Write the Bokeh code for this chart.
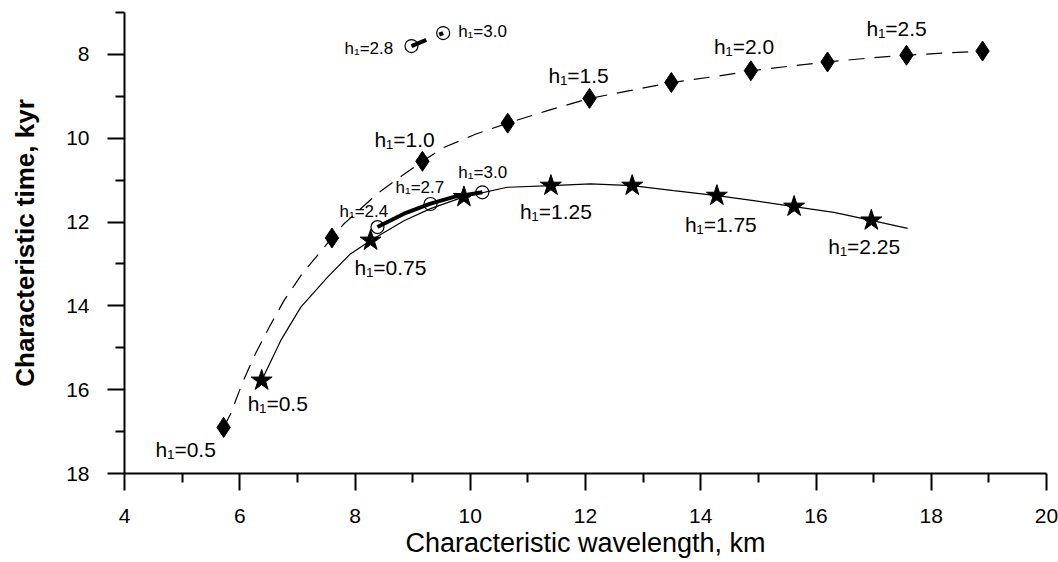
from bokeh.plotting import figure
from bokeh.models import Range1d, FixedTicker, ColumnDataSource
from bokeh.core.properties import value
from bokeh.embed import file_html
from bokeh.resources import INLINE

# ---------------- data ----------------
x_ticks = [4, 6, 8, 10, 12, 14, 16, 18, 20]
x_minor = [5, 7, 9, 11, 13, 15, 17, 19]
y_ticks = [8, 10, 12, 14, 16, 18]
y_minor = [7, 9, 11, 13, 15, 17]

# diamonds (dashed curve)
dia_h = [0.5, 0.75, 1.0, 1.25, 1.5, 1.75, 2.0, 2.25, 2.5, 2.75]
dia_x = [5.72, 7.60, 9.17, 10.65, 12.07, 13.49, 14.87, 16.20, 17.57, 18.89]
dia_y = [16.90, 12.38, 10.55, 9.64, 9.05, 8.67, 8.39, 8.18, 8.02, 7.92]
dash_x = [5.72, 5.84, 6.04, 6.24, 6.51, 6.77, 7.08, 7.40, 7.60, 7.81, 8.39, 8.82,
          9.17, 9.54, 10.10, 10.65, 11.34, 12.07, 12.79, 13.49, 14.29, 14.87,
          15.55, 16.20, 16.90, 17.57, 18.20, 18.89]
dash_y = [16.90, 16.58, 15.86, 15.23, 14.51, 13.87, 13.24, 12.71, 12.38, 12.04, 11.32, 10.89,
          10.55, 10.22, 9.90, 9.64, 9.34, 9.05, 8.86, 8.67, 8.52, 8.39,
          8.28, 8.18, 8.09, 8.02, 7.97, 7.92]

# stars (thin solid curve)
star_h = [0.5, 0.75, 1.0, 1.25, 1.5, 1.75, 2.0, 2.25]
star_x = [6.38, 8.27, 9.89, 11.40, 12.81, 14.28, 15.62, 16.96]
star_y = [15.78, 12.44, 11.40, 11.13, 11.13, 11.37, 11.63, 11.96]
solid_x = [6.38, 6.71, 7.06, 7.52, 7.92, 8.27, 8.85, 9.31, 9.89, 10.64, 11.40, 12.09,
           12.81, 13.53, 14.28, 14.92, 15.62, 16.31, 16.96, 17.59]
solid_y = [15.78, 14.83, 14.03, 13.32, 12.76, 12.44, 11.97, 11.68, 11.40, 11.17, 11.13, 11.09,
           11.13, 11.25, 11.37, 11.49, 11.63, 11.77, 11.96, 12.15]

# open circles on thick curve
circ_h = [2.4, 2.7, 3.0]
circ_x = [8.39, 9.31, 10.21]
circ_y = [12.12, 11.57, 11.29]
thick_x = [8.39, 8.85, 9.31, 9.72, 10.21]
thick_y = [12.12, 11.80, 11.56, 11.40, 11.29]

# isolated pair of open circles at top
top_h = [2.8, 3.0]
top_x = [8.98, 9.53]
top_y = [7.80, 7.49]

FONT = "Liberation Sans"

# ---------------- figure ----------------
p = figure(width=1058, height=562,
           x_range=Range1d(4, 20), y_range=Range1d(18, 7),
           output_backend="svg", toolbar_location=None,
           min_border_left=124, min_border_right=12,
           min_border_top=12, min_border_bottom=89)
p.outline_line_color = None
p.xgrid.visible = False
p.ygrid.visible = False
p.background_fill_color = "white"
p.border_fill_color = "white"

for ax in (p.xaxis[0], p.yaxis[0]):
    ax.axis_line_width = 2
    ax.axis_line_color = "black"
    ax.major_tick_line_width = 2
    ax.minor_tick_line_width = 2
    ax.major_tick_line_color = "black"
    ax.minor_tick_line_color = "black"
    ax.major_tick_out = 17
    ax.major_tick_in = 0
    ax.minor_tick_out = 9
    ax.minor_tick_in = 0
    ax.major_label_text_font = FONT
    ax.major_label_text_font_size = "21px"
    ax.major_label_text_color = "black"
    ax.axis_label_text_font = FONT
    ax.axis_label_text_color = "black"

p.xaxis[0].ticker = FixedTicker(ticks=x_ticks, minor_ticks=x_minor)
p.yaxis[0].ticker = FixedTicker(ticks=y_ticks, minor_ticks=y_minor)

p.xaxis[0].axis_label = "Characteristic wavelength, km"
p.xaxis[0].axis_label_text_font_size = "27px"
p.xaxis[0].axis_label_text_font_style = "normal"
p.xaxis[0].major_label_standoff = 18
p.xaxis[0].axis_label_standoff = 2

p.yaxis[0].axis_label = "Characteristic time, kyr"
p.yaxis[0].axis_label_text_font_size = "26px"
p.yaxis[0].axis_label_text_font_style = "bold"
p.yaxis[0].major_label_standoff = 18
p.yaxis[0].axis_label_standoff = 23

# curves
p.line(dash_x, dash_y, line_color="black", line_width=1.2, line_dash="16 10")
p.line(solid_x, solid_y, line_color="black", line_width=1.2)
p.line(thick_x, thick_y, line_color="black", line_width=4)
p.line(top_x, top_y, line_color="black", line_width=4, line_dash="16 14")

# markers
p.scatter(dia_x, dia_y, marker="diamond", size=20, fill_color="black", line_color="black")
p.scatter(star_x, star_y, marker="star", size=22, fill_color="black", line_color="black")
p.scatter(circ_x, circ_y, marker="circle", size=13, fill_color=None, line_color="black", line_width=1.2)
p.scatter(top_x, top_y, marker="circle", size=13, fill_color=None, line_color="black", line_width=1.2)

def lab(h):
    return "h\u2081=" + str(h)

# labels: (x, y, text, dx px, dy px)
big = []
big.append((dia_x[0], dia_y[0], lab(dia_h[0]), -68, 22))
big.append((star_x[0], star_y[0], lab(star_h[0]), -14, 23))
big.append((star_x[1], star_y[1], lab(star_h[1]), -16, 27))
big.append((dia_x[2], dia_y[2], lab(dia_h[2]), -48, -22))
big.append((star_x[3], star_y[3], lab(star_h[3]), -31, 26))
big.append((dia_x[4], dia_y[4], lab(dia_h[4]), -41, -23))
big.append((star_x[5], star_y[5], lab(star_h[5]), -32, 29))
big.append((dia_x[6], dia_y[6], lab(dia_h[6]), -37, -24))
big.append((star_x[7], star_y[7], lab(star_h[7]), -43, 26))
big.append((dia_x[8], dia_y[8], lab(dia_h[8]), -40, -27))

small = []
small.append((top_x[0], top_y[0], lab(top_h[0]), -67, 2))
small.append((top_x[1], top_y[1], lab(top_h[1]), 15, -2))
small.append((circ_x[0], circ_y[0], lab(circ_h[0]), -38, -16))
small.append((circ_x[1], circ_y[1], lab(circ_h[1]), -35, -17))
small.append((circ_x[2], circ_y[2], lab(circ_h[2]), -24, -20))

for group, fs in ((big, "21px"), (small, "17px")):
    src = ColumnDataSource(dict(
        x=[g[0] for g in group], y=[g[1] for g in group], t=[g[2] for g in group],
        dx=[g[3] for g in group], dy=[g[4] for g in group]))
    p.text(x="x", y="y", text="t", x_offset="dx", y_offset="dy", source=src,
           text_font=value(FONT), text_font_size=fs, text_color="black",
           text_align="left", text_baseline="middle")

open("out.html", "w").write(file_html(p, INLINE))
